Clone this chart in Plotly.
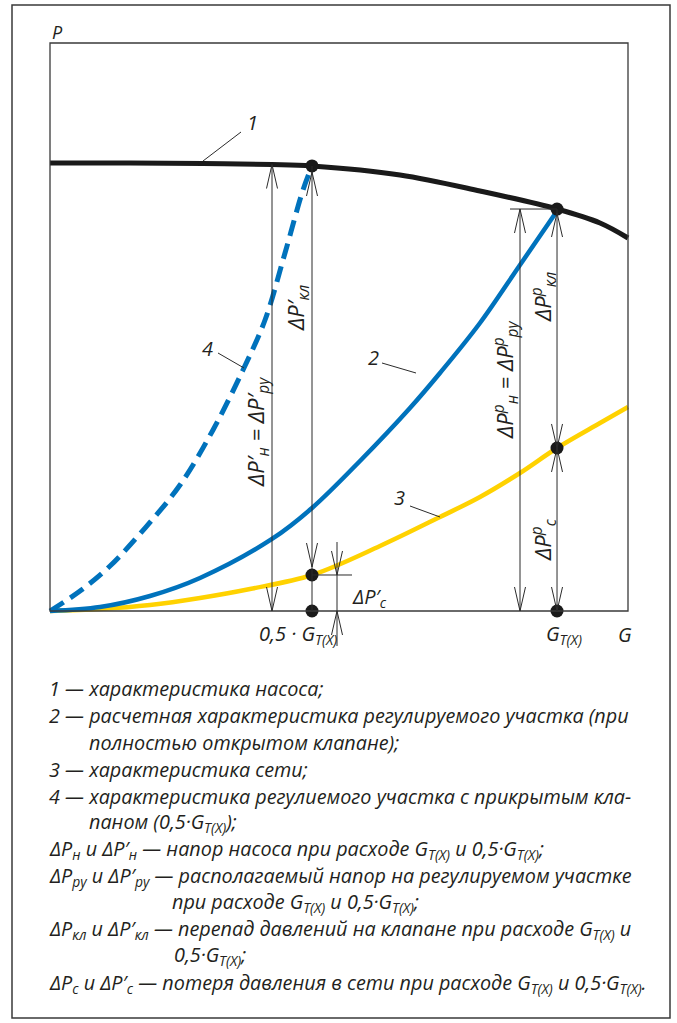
import plotly.graph_objects as go

# ---------------- data (G and P in arbitrary units, plot box = 0..100) ----------------
g_pump = [0, 13.84, 26.47, 38.41, 45.33, 60.55, 74.39, 87.72, 95.16, 100]
p_pump = [78.87, 78.87, 78.79, 78.61, 78.35, 76.76, 73.94, 70.77, 68.31, 65.67]

g_design = [0, 8.65, 17.30, 25.95, 38.41, 45.33, 53.63, 62.28, 67.47, 74.39, 81.31, 87.72]
p_design = [0, 0.70, 2.64, 5.81, 12.68, 18.13, 26.41, 35.74, 41.90, 50.70, 60.92, 70.42]

g_net = [0, 8.65, 17.30, 25.95, 34.60, 45.33, 57.09, 67.47, 74.39, 81.31, 87.72, 95.16, 100]
p_net = [0, 0.35, 1.06, 2.29, 3.87, 6.34, 11.44, 16.55, 20.07, 24.30, 28.70, 33.10, 35.92]

g_closed = [0, 5.19, 10.38, 16.44, 22.49, 28.20, 33.39, 37.20, 40.66, 43.77, 45.33]
p_closed = [0, 3.52, 7.92, 14.61, 22.18, 31.87, 42.43, 51.23, 63.03, 74.12, 78.35]

g_half = 45.33        # 0,5·G_T(X)
g_full = 87.72        # G_T(X)
p_pump_half = 78.35
p_pump_full = 70.77
p_net_half = 6.34
p_net_full = 28.70

# points marked on the chart
dot_g = [g_half, g_full, g_full, g_half, g_half, g_full]
dot_p = [p_pump_half, p_pump_full, p_net_full, p_net_half, 0, 0]

curve_numbers = ["1", "2", "3", "4"]

dim_labels = [
    "ΔP′<sub>н</sub> = ΔP′<sub>ру</sub>",
    "ΔP′<sub>кл</sub>",
    "ΔP<sup>р</sup><sub>н</sub> = ΔP<sup>р</sup><sub>ру</sub>",
    "ΔP<sup>р</sup><sub>кл</sub>",
    "ΔP<sup>р</sup><sub>с</sub>",
]

legend_lines = [
    "1 — характеристика насоса;",
    "2 — расчетная характеристика регулируемого участка (при",
    "полностью открытом клапане);",
    "3 — характеристика сети;",
    "4 — характеристика регулиемого участка с прикрытым кла-",
    "паном (0,5·G<sub>T(X)</sub>);",
    "ΔP<sub>н</sub> и ΔP′<sub>н</sub> — напор насоса при расходе G<sub>T(X)</sub> и 0,5·G<sub>T(X)</sub>;",
    "ΔP<sub>ру</sub> и ΔP′<sub>ру</sub> — располагаемый напор на регулируемом участке",
    "при расходе G<sub>T(X)</sub> и 0,5·G<sub>T(X)</sub>;",
    "ΔP<sub>кл</sub> и ΔP′<sub>кл</sub> — перепад давлений на клапане при расходе G<sub>T(X)</sub> и",
    "0,5·G<sub>T(X)</sub>;",
    "ΔP<sub>с</sub> и ΔP′<sub>с</sub> — потеря давления в сети при расходе G<sub>T(X)</sub> и 0,5·G<sub>T(X)</sub>.",
]

# ---------------- layout geometry ----------------
W, H = 677, 1023
BOX_L, BOX_R, BOX_T, BOX_B = 50, 628, 43, 611   # pixel position of plot box
sx = (BOX_R - BOX_L) / 100.0
sy = (BOX_B - BOX_T) / 100.0
x_range = [-BOX_L / sx, 100 + (W - BOX_R) / sx]
y_range = [-(H - BOX_B) / sy, 100 + BOX_T / sy]

def gx(px):
    return (px - BOX_L) / sx

def py(pp):
    return (BOX_B - pp) / sy

FONT = "Open Sans"
TXT = "#231f20"
LINE = "#2b2b2b"
BLUE = "#0072bc"
YELLOW = "#ffd200"

fig = go.Figure()
shapes = []

def seg(x0, y0, x1, y1, color=LINE, width=1):
    shapes.append(dict(type="line", xref="x", yref="y", x0=x0, y0=y0, x1=x1, y1=y1,
                       line=dict(color=color, width=width)))

ARR_L = 24 / sy
ARR_W = 5.5 / sx

def arrow(x, tip, direction):
    # direction +1 : pointing up, -1 : pointing down
    base = tip - direction * ARR_L
    seg(x - ARR_W, base, x, tip)
    seg(x + ARR_W, base, x, tip)

# plot box
shapes.append(dict(type="rect", xref="x", yref="y", x0=0, y0=0, x1=100, y1=100,
                   line=dict(color="#3a3a3a", width=1.3)))
# outer frame
shapes.append(dict(type="rect", xref="paper", yref="paper",
                   x0=12 / W, x1=670 / W, y0=1 - 1018 / H, y1=1 - 5 / H,
                   line=dict(color="#3a3a3a", width=1.5)))

# dimension lines
x_d1 = gx(272)
x_d3 = gx(337)
x_d4 = gx(520)
seg(x_d1, 0, x_d1, 78.61)
arrow(x_d1, 78.61, +1)
arrow(x_d1, 0, -1)

seg(g_half, 0, g_half, p_pump_half)
arrow(g_half, py(172), +1)
arrow(g_half, py(567), -1)

seg(x_d3, py(542), x_d3, py(646))
seg(g_half, p_net_half, gx(352), p_net_half)
arrow(x_d3, p_net_half, -1)
arrow(x_d3, 0, +1)

seg(gx(510), p_pump_full, g_full, p_pump_full)
seg(x_d4, 0, x_d4, p_pump_full)
arrow(x_d4, p_pump_full, +1)
arrow(x_d4, 0, -1)

seg(g_full, 0, g_full, p_pump_full)
arrow(g_full, py(213), +1)
arrow(g_full, p_net_full, -1)
arrow(g_full, p_net_full, +1)
arrow(g_full, 0, -1)

# leader lines for curve numbers
leaders = [((241, 132), (203, 161)), ((382, 363), (416, 373)),
           ((410, 506), (440, 517)), ((218, 353), (244, 368))]
for (a, b) in leaders:
    seg(gx(a[0]), py(a[1]), gx(b[0]), py(b[1]))

# curves
fig.add_trace(go.Scatter(x=g_net, y=p_net, mode="lines", line=dict(color=YELLOW, width=4.5, shape="spline")))
fig.add_trace(go.Scatter(x=g_design, y=p_design, mode="lines", line=dict(color=BLUE, width=4.5, shape="spline")))
fig.add_trace(go.Scatter(x=g_closed, y=p_closed, mode="lines",
                         line=dict(color=BLUE, width=5, shape="spline", dash="16px,8px")))
fig.add_trace(go.Scatter(x=g_pump, y=p_pump, mode="lines", line=dict(color="#1a1a1a", width=5, shape="spline")))
fig.add_trace(go.Scatter(x=dot_g, y=dot_p, mode="markers", marker=dict(color="#1a1a1a", size=13)))

annotations = []

def text(x, y, s, size=18, angle=0, xanchor="center", xref="x", yref="y"):
    annotations.append(dict(x=x, y=y, xref=xref, yref=yref, text=s, showarrow=False,
                            textangle=angle, xanchor=xanchor, yanchor="middle",
                            font=dict(family=FONT, size=size, color=TXT, style="italic")))

# axis labels
text(gx(57), py(32), "P", 18)
text(gx(625), py(634), "G", 20)
text(gx(564), py(634), "G<sub>T(X)</sub>", 20)
text(gx(298), py(634), "0,5 · G<sub>T(X)</sub>", 20)
text(gx(369), py(597), "ΔP′<sub>с</sub>", 20)

num_pos = [(252, 122), (373, 357), (399, 497), (207, 348)]
for s, (a, b) in zip(curve_numbers, num_pos):
    text(gx(a), py(b), s, 20)

dim_pos = [(257, 432), (297, 308), (505, 380), (543, 297), (543, 540)]
for s, (a, b) in zip(dim_labels, dim_pos):
    text(gx(a), py(b), s, 22, angle=-90)

# legend / explanation text
leg_x = [47, 47, 87, 47, 47, 87, 47, 47, 170, 47, 172, 47]
leg_y = [688, 715, 742, 769, 796, 822, 849, 876, 902, 929, 955, 983]
for s, a, b in zip(legend_lines, leg_x, leg_y):
    text(a / W, 1 - b / H, s, 19.8, xanchor="left", xref="paper", yref="paper")

fig.update_layout(
    width=W, height=H,
    margin=dict(l=0, r=0, t=0, b=0),
    paper_bgcolor="white", plot_bgcolor="white",
    showlegend=False,
    xaxis=dict(range=x_range, visible=False, fixedrange=True),
    yaxis=dict(range=y_range, visible=False, fixedrange=True),
    shapes=shapes,
    annotations=annotations,
)

fig.write_html("out.html", config={"displayModeBar": False},
               post_script="document.body.style.margin='0';document.body.style.overflow='hidden';")
